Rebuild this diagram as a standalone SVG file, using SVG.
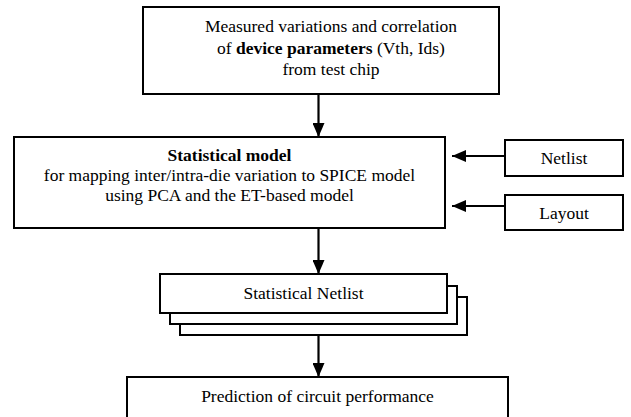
<svg xmlns="http://www.w3.org/2000/svg" width="631" height="417" viewBox="0 0 631 417">
<defs>
<style>
.box{fill:#fff;stroke:#000;stroke-width:2}
.t{font-family:'Liberation Serif','DejaVu Serif',serif;font-size:17.5px;fill:#000;text-anchor:middle}
.b{font-weight:bold}
.c{stroke:#000;stroke-width:2.2;fill:none}
</style>
<marker id="ah" markerWidth="14" markerHeight="12" viewBox="0 0 14 12" refX="14" refY="6" orient="auto" markerUnits="userSpaceOnUse">
<path d="M0,0 L14,6 L0,12 Z" fill="#000"/>
</marker>
</defs>
<rect width="631" height="417" fill="#fff"/>
<g id="connectors">
<line class="c" x1="318.5" y1="94" x2="318.5" y2="137" marker-end="url(#ah)"/>
<line class="c" x1="318.5" y1="228" x2="318.5" y2="274" marker-end="url(#ah)"/>
<line class="c" x1="318.5" y1="335" x2="318.5" y2="377" marker-end="url(#ah)"/>
<line class="c" x1="505" y1="156" x2="452" y2="156" marker-end="url(#ah)"/>
<line class="c" x1="505" y1="206" x2="452" y2="206" marker-end="url(#ah)"/>
</g>
<g font-family="Liberation Serif, DejaVu Serif, serif">
<g id="measured">
<rect class="box" x="143" y="7" width="356" height="87"/>
<text class="t" x="331" y="32">Measured variations and correlation</text>
<text class="t" x="331" y="54">of <tspan class="b">device parameters</tspan> (Vth, Ids)</text>
<text class="t" x="331" y="75">from test chip</text>
</g>
<g id="statmodel">
<rect class="box" x="14" y="137" width="431" height="91"/>
<text class="t b" x="229.5" y="161">Statistical model</text>
<text class="t" x="229.5" y="181">for mapping inter/intra-die variation to SPICE model</text>
<text class="t" x="229.5" y="201">using PCA and the ET-based model</text>
</g>
<g id="netlist">
<rect class="box" x="505" y="140" width="118" height="36"/>
<text class="t" x="564" y="164">Netlist</text>
</g>
<g id="layout">
<rect class="box" x="505" y="195" width="118" height="35"/>
<text class="t" x="564" y="219">Layout</text>
</g>
<g id="statnetlist">
<rect class="box" x="180" y="297" width="287" height="38"/>
<rect class="box" x="170" y="286" width="287" height="38"/>
<rect class="box" x="160" y="274" width="287" height="39"/>
<text class="t" x="303.5" y="299">Statistical Netlist</text>
</g>
<g id="prediction">
<rect class="box" x="127" y="377" width="381" height="60"/>
<text class="t" x="317.5" y="402">Prediction of circuit performance</text>
</g>
</g>
</svg>
